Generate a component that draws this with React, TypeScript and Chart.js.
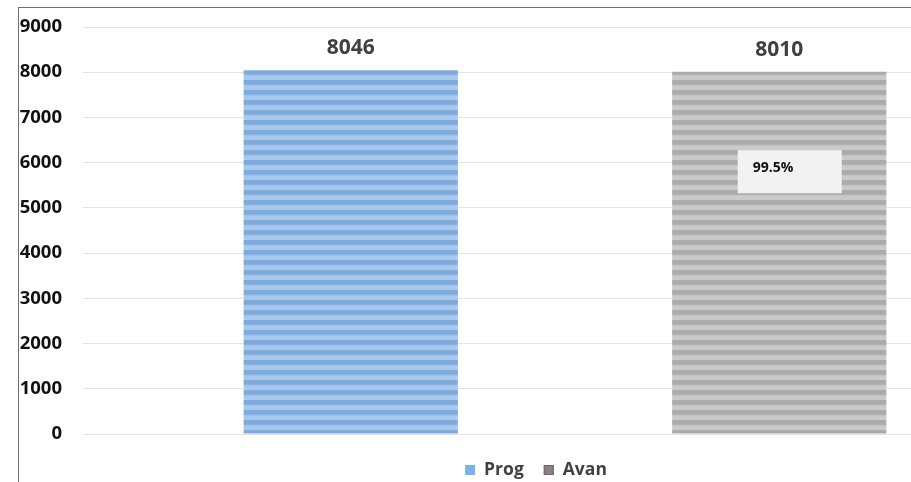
import React, { useEffect, useRef } from "react";
import { Chart, registerables } from "chart.js";

Chart.register(...registerables);

const categories = [""];
const seriesNames = ["Prog", "Avan"];
const seriesValues = [8046, 8010];
const yTicks = [0, 1000, 2000, 3000, 4000, 5000, 6000, 7000, 8000, 9000];
const pctLabel = "99.5%";
const pctAnchorValue = 5800;
const legendColors = ["#7DB0E3", "#8C7F80"];

function stripePattern(dark: string, light: string, period: number) {
  const c = document.createElement("canvas");
  c.width = 4;
  c.height = period;
  const g = c.getContext("2d")!;
  const grad = g.createLinearGradient(0, 0, 0, period);
  grad.addColorStop(0, dark);
  grad.addColorStop(0.4, dark);
  grad.addColorStop(0.6, light);
  grad.addColorStop(1, light);
  g.fillStyle = grad;
  g.fillRect(0, 0, 4, period);
  const tmp = document.createElement("canvas").getContext("2d")!;
  return tmp.createPattern(c, "repeat") as CanvasPattern;
}

export default function App() {
  const ref = useRef<HTMLCanvasElement>(null);
  useEffect(() => {
    const canvas = ref.current!;
    const ctx = canvas.getContext("2d")!;
    const blue = stripePattern("#7DABDE", "#A8C8EC", 10);
    const gray = stripePattern("#ABABAB", "#CACACA", 10);

    const labelsPlugin = {
      id: "valueLabels",
      afterDatasetsDraw(chart: any) {
        const c = chart.ctx;
        c.save();
        chart.data.datasets.forEach((ds: any, i: number) => {
          const meta = chart.getDatasetMeta(i);
          meta.data.forEach((bar: any, j: number) => {
            c.font = "bold 21px 'Open Sans'";
            c.fillStyle = "#404040";
            c.textAlign = "center";
            c.textBaseline = "middle";
            c.fillText(String(ds.data[j]), bar.x, bar.y - 22);
          });
        });
        const meta = chart.getDatasetMeta(1);
        const bar: any = meta.data[0];
        const yc = chart.scales.y.getPixelForValue(pctAnchorValue);
        const w = 104;
        const h = 43;
        const xc = bar.x + 10.5;
        c.fillStyle = "#F2F2F2";
        c.fillRect(xc - w / 2, yc - h / 2, w, h);
        c.font = "bold 14px 'Open Sans'";
        c.fillStyle = "#111111";
        c.textAlign = "left";
        c.textBaseline = "middle";
        c.fillText(pctLabel, xc - w / 2 + 15, yc - 4);

        // legend
        const ly = chart.chartArea.bottom + 36;
        c.font = "bold 17.5px 'Open Sans'";
        const items = seriesNames.map((n) => c.measureText(n).width);
        const box = 10;
        const gapBox = 9;
        const gapItem = 20;
        const total =
          items.reduce((a: number, b: number) => a + b, 0) +
          items.length * (box + gapBox) +
          gapItem * (items.length - 1);
        let x = 536 - total / 2;
        seriesNames.forEach((n, i) => {
          c.fillStyle = legendColors[i];
          c.fillRect(x, ly - box / 2, box, box);
          if (i === 1) {
            c.strokeStyle = "#6a6a6a";
            c.lineWidth = 1;
            c.strokeRect(x + 0.5, ly - box / 2 + 0.5, box - 1, box - 1);
          }
          x += box + gapBox;
          c.fillStyle = "#404040";
          c.textAlign = "left";
          c.textBaseline = "middle";
          c.fillText(n, x, ly);
          x += items[i] + gapItem;
        });
        c.restore();
      },
    };

    const chart = new Chart(ctx, {
      type: "bar",
      data: {
        labels: categories,
        datasets: [
          {
            label: seriesNames[0],
            data: [seriesValues[0]],
            backgroundColor: blue,
            borderWidth: 0,
          },
          {
            label: seriesNames[1],
            data: [seriesValues[1]],
            backgroundColor: gray,
            borderWidth: 0,
          },
        ],
      },
      options: {
        animation: false,
        responsive: false,
        maintainAspectRatio: false,
        devicePixelRatio: 1,
        layout: { padding: { left: 0, right: 25, top: 27, bottom: 38 } },
        datasets: { bar: { categoryPercentage: 0.889, barPercentage: 0.5 } },
        plugins: {
          tooltip: { enabled: false },
          legend: { display: false },
        },
        scales: {
          x: {
            display: true,
            grid: { display: false },
            border: { display: false },
            ticks: { display: false },
            afterFit: (s: any) => {
              s.height = 10;
              s.paddingLeft = 0;
              s.paddingRight = 0;
            },
          },
          y: {
            min: 0,
            max: 9000,
            afterBuildTicks: (s: any) => {
              s.ticks = yTicks.map((v) => ({ value: v }));
            },
            afterFit: (s: any) => {
              s.width = 83;
              s.paddingTop = 0;
              s.paddingBottom = 0;
            },
            grid: { color: "#E3E3E3", lineWidth: 1, drawTicks: false },
            border: { display: false },
            ticks: {
              padding: 21,
              color: "#111111",
              font: { family: "'Open Sans'", size: 18.5, weight: "bold" },
              callback: (v: any) => String(v),
            },
          },
        },
      },
      plugins: [labelsPlugin],
    });
    return () => chart.destroy();
  }, []);

  return (
    <div
      style={{
        position: "fixed",
        left: 0,
        top: 0,
        width: 911,
        height: 482,
        overflow: "hidden",
        background: "#fff",
      }}
    >
      <div
        style={{
          position: "absolute",
          left: 18,
          top: 7,
          width: 1100,
          height: 600,
          borderLeft: "1px solid #6f6f6f",
          borderTop: "1px solid #6f6f6f",
          overflow: "hidden",
        }}
      >
        <canvas
          ref={ref}
          width={1072}
          height={482}
          style={{ position: "absolute", left: -19, top: -8, width: 1072, height: 482 }}
        />
      </div>
    </div>
  );
}
